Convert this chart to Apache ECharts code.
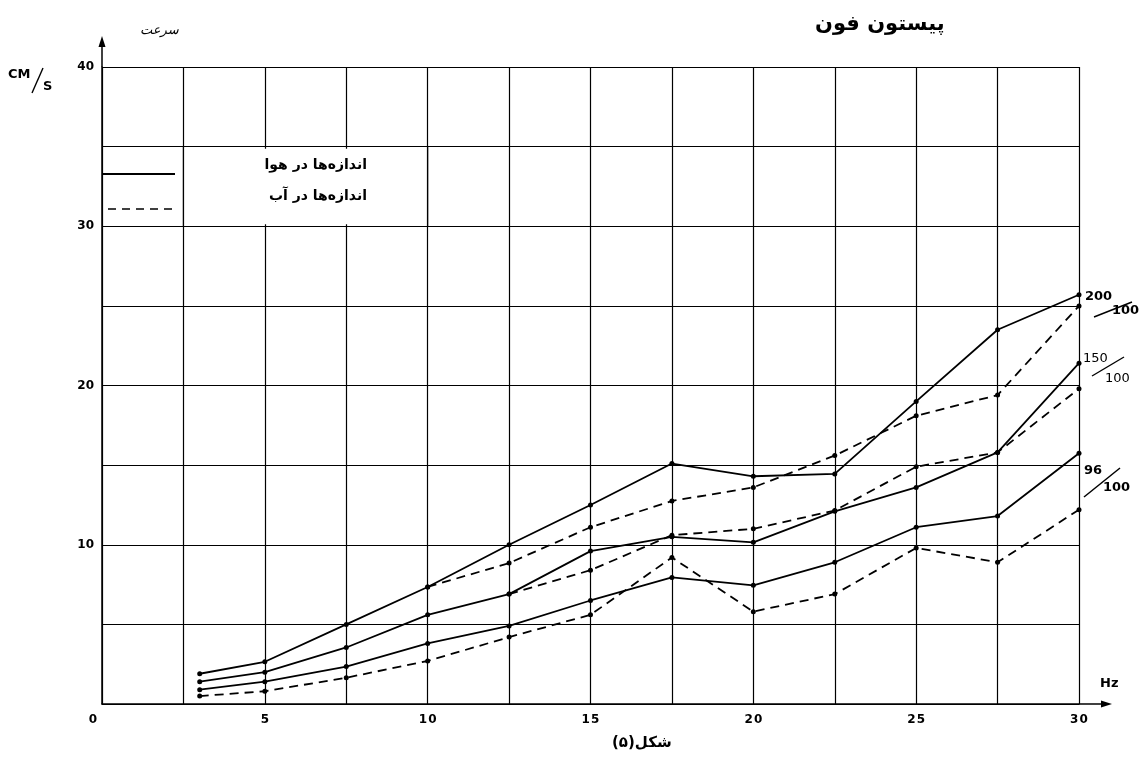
<!DOCTYPE html>
<html>
<head>
<meta charset="utf-8">
<script src="https://cdn.jsdelivr.net/npm/echarts@6/dist/echarts.min.js"></script>
<style>html,body{margin:0;padding:0;background:#fff}#c{width:1143px;height:767px}</style>
</head>
<body>
<div id="c"></div>
<script>
// ---- data (frequency in Hz, speed in cm/s) ----
var xAir = [3, 5, 7.5, 10, 12.5, 15, 17.5, 20, 22.5, 25, 27.5, 30];
var air200 = [1.9, 2.65, 5.0, 7.35, 10.0, 12.5, 15.1, 14.3, 14.45, 19.0, 23.5, 25.7];
var air150 = [1.4, 2.0, 3.55, 5.6, 6.9, 9.6, 10.5, 10.15, 12.1, 13.6, 15.8, 21.4];
var air96  = [0.9, 1.4, 2.35, 3.8, 4.9, 6.5, 7.95, 7.45, 8.9, 11.1, 11.8, 15.75];

var xWater200 = [10, 12.5, 15, 17.5, 20, 22.5, 25, 27.5, 30];
var water200  = [7.35, 8.85, 11.1, 12.75, 13.6, 15.6, 18.1, 19.4, 25.0];
var xWater150 = [12.5, 15, 17.5, 20, 22.5, 25, 27.5, 30];
var water150  = [6.9, 8.4, 10.6, 11.0, 12.15, 14.9, 15.8, 19.8];
var xWater96  = [3, 5, 7.5, 10, 12.5, 15, 17.5, 20, 22.5, 25, 27.5, 30];
var water96   = [0.5, 0.8, 1.65, 2.7, 4.2, 5.6, 9.2, 5.8, 6.9, 9.8, 8.9, 12.2];

var xTickLabels = [0, 5, 10, 15, 20, 25, 30];
var yTickLabels = [10, 20, 30, 40];

var title = 'پیستون فون';
var yName = 'سرعت';
var caption = 'شکل(۵)';
var legendAir = 'اندازه‌ها در هوا';
var legendWater = 'اندازه‌ها در آب';

function pairs(xs, ys) { return xs.map(function (x, i) { return [x, ys[i]]; }); }

var FA = "'DejaVu Sans', sans-serif";
var NUM = "'DejaVu Sans', sans-serif";

function mkSeries(name, xs, ys, dashed) {
  return {
    name: name, type: 'line', data: pairs(xs, ys),
    symbol: 'circle', symbolSize: 5, silent: true,
    lineStyle: { color: '#000', width: 1.8, type: dashed ? [9, 6] : 'solid' },
    itemStyle: { color: '#000' }, z: 3
  };
}

var series = [
  mkSeries('air200', xAir, air200, false),
  mkSeries('air150', xAir, air150, false),
  mkSeries('air96', xAir, air96, false),
  mkSeries('water200', xWater200, water200, true),
  mkSeries('water150', xWater150, water150, true),
  mkSeries('water96', xWater96, water96, true)
];

var GL = 102, GR = 64, GT = 67, GB = 63;
var chart = echarts.init(document.getElementById('c'), null, { renderer: 'canvas' });
chart.setOption({
  animation: false,
  backgroundColor: '#fff',
  grid: { left: GL, right: GR, top: GT, bottom: GB },
  xAxis: {
    type: 'value', min: 0, max: 30, interval: 2.5,
    axisLine: { show: true, lineStyle: { color: '#000', width: 1.5 } },
    axisTick: { show: false },
    splitLine: { show: true, lineStyle: { color: '#000', width: 1.2 } },
    axisLabel: {
      margin: 10, color: '#000', fontFamily: NUM, fontSize: 12, fontWeight: 'bold',
      formatter: function (v) {
        if (xTickLabels.indexOf(v) < 0) return '';
        return v === 0 ? '{z|0}' : String(v).split('').join('\u200A');
      },
      rich: { z: { padding: [0, 18, 0, 0], fontFamily: NUM, fontSize: 12, fontWeight: 'bold', color: '#000' } }
    }
  },
  yAxis: {
    type: 'value', min: 0, max: 40, interval: 5,
    axisLine: { show: true, lineStyle: { color: '#000', width: 1.5 } },
    axisTick: { show: false },
    splitLine: { show: true, lineStyle: { color: '#000', width: 1.2 } },
    axisLabel: {
      margin: 8, color: '#000', fontFamily: NUM, fontSize: 12, fontWeight: 'bold',
      formatter: function (v) { return yTickLabels.indexOf(v) >= 0 ? String(v) : ''; }
    }
  },
  series: series
});

// legend box: white patch over the inner grid lines at x=5 and x=7.5 between y=30..35
var W = 1143 - GL - GR, H = 767 - GT - GB;
function px(v) { return GL + v / 30 * W; }
function py(v) { return GT + (40 - v) / 40 * H; }
var rx1 = px(3.3), rx2 = px(9.2), ry1 = py(35) + 2, ry2 = py(30) - 2;

chart.setOption({
  graphic: [
    { type: 'rect', shape: { x: rx1, y: ry1, width: rx2 - rx1, height: ry2 - ry1 }, style: { fill: '#fff' }, z: 1 },
    // re-draw the 2.5 and 10 grid lines inside the legend row
    { type: 'line', shape: { x1: px(2.5), y1: py(35), x2: px(2.5), y2: py(30) }, style: { stroke: '#000', lineWidth: 1.2 } },
    { type: 'line', shape: { x1: px(10), y1: py(35), x2: px(10), y2: py(30) }, style: { stroke: '#000', lineWidth: 1.2 } },
    // axis extensions with arrows
    { type: 'line', shape: { x1: 102, y1: 67, x2: 102, y2: 42 }, style: { stroke: '#000', lineWidth: 1.5 } },
    { type: 'polygon', shape: { points: [[98.5, 47], [102, 36], [105.5, 47]] }, style: { fill: '#000' } },
    { type: 'line', shape: { x1: 1079, y1: 704, x2: 1106, y2: 704 }, style: { stroke: '#000', lineWidth: 1.5 } },
    { type: 'polygon', shape: { points: [[1101, 700.5], [1112, 704], [1101, 707.5]] }, style: { fill: '#000' } },
    // title & axis names
    { type: 'text', x: 815, y: 14, style: { text: title, font: "bold 21px " + FA, fill: '#000' } },
    { type: 'text', x: 140, y: 24, style: { text: yName, font: "italic 13px " + FA, fill: '#000' } },
    { type: 'text', x: 8, y: 68, style: { text: 'CM', font: "bold 13px " + NUM, fill: '#000' } },
    { type: 'line', shape: { x1: 32, y1: 93, x2: 43, y2: 68 }, style: { stroke: '#000', lineWidth: 1.4 } },
    { type: 'text', x: 43, y: 80, style: { text: 'S', font: "bold 13px " + NUM, fill: '#000' } },
    { type: 'text', x: 1100, y: 677, style: { text: 'Hz', font: "bold 13px " + NUM, fill: '#000' } },
    { type: 'text', x: 612, y: 736, style: { text: caption, font: "bold 15px " + FA, fill: '#000' } },
    // legend
    { type: 'line', shape: { x1: 102, y1: 174, x2: 175, y2: 174 }, style: { stroke: '#000', lineWidth: 1.8 } },
    { type: 'line', shape: { x1: 108, y1: 209, x2: 175, y2: 209 }, style: { stroke: '#000', lineWidth: 1.5, lineDash: [8, 6] } },
    { type: 'text', x: 367, y: 158, z: 10, style: { text: legendAir, font: "bold 14px " + FA, fill: '#000', align: 'right', textAlign: 'right' } },
    { type: 'text', x: 367, y: 189, z: 10, style: { text: legendWater, font: "bold 14px " + FA, fill: '#000', align: 'right', textAlign: 'right' } },
    // ratio labels at line ends
    { type: 'text', x: 1085, y: 290, style: { text: '200', font: "bold 13px " + NUM, fill: '#000' } },
    { type: 'line', shape: { x1: 1094, y1: 317, x2: 1132, y2: 302 }, style: { stroke: '#000', lineWidth: 1.5 } },
    { type: 'text', x: 1112, y: 304, style: { text: '100', font: "bold 13px " + NUM, fill: '#000' } },
    { type: 'text', x: 1083, y: 352, style: { text: '150', font: "13px " + NUM, fill: '#000' } },
    { type: 'line', shape: { x1: 1092, y1: 376, x2: 1124, y2: 357 }, style: { stroke: '#000', lineWidth: 1.4 } },
    { type: 'text', x: 1105, y: 372, style: { text: '100', font: "13px " + NUM, fill: '#000' } },
    { type: 'text', x: 1084, y: 464, style: { text: '96', font: "bold 13px " + NUM, fill: '#000' } },
    { type: 'line', shape: { x1: 1084, y1: 497, x2: 1120, y2: 468 }, style: { stroke: '#000', lineWidth: 1.5 } },
    { type: 'text', x: 1103, y: 481, style: { text: '100', font: "bold 13px " + NUM, fill: '#000' } }
  ]
});
</script>
</body>
</html>
